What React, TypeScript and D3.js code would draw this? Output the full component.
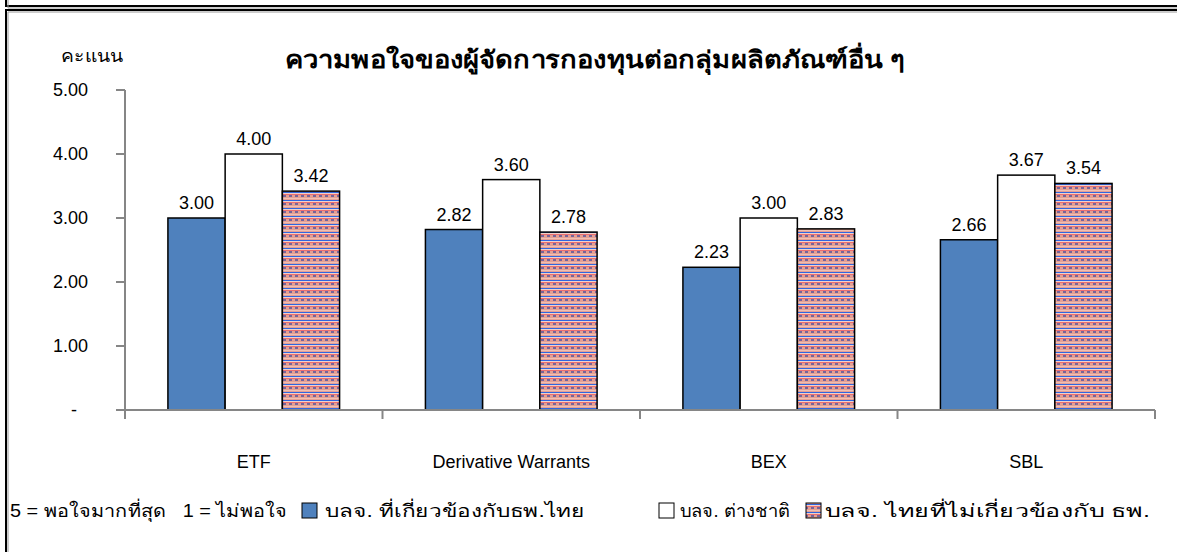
import React from "react";
import * as d3 from "d3";

const categories = ["ETF", "Derivative Warrants", "BEX", "SBL"];
const seriesNames = [
  "บลจ. ที่เกี่ยวข้องกับธพ.ไทย",
  "บลจ. ต่างชาติ",
  "บลจ. ไทยที่ไม่เกี่ยวข้องกับ ธพ.",
];
const bankRelated = [3.0, 2.82, 2.23, 2.66];
const foreign = [4.0, 3.6, 3.0, 3.67];
const thaiNonBank = [3.42, 2.78, 2.83, 3.54];
const yTicks = [0, 1, 2, 3, 4, 5];
const title = "ความพอใจของผู้จัดการกองทุนต่อกลุ่มผลิตภัณฑ์อื่น ๆ";
const yTitle = "คะแนน";
const scaleNote = "5 = พอใจมากที่สุด   1 = ไม่พอใจ";

const W = 1177;
const H = 552;
const font = "Arial, 'Liberation Sans', 'Noto Sans', sans-serif";
const fills = ["#4F81BD", "#FFFFFF", "url(#stripes)"];

// legend layout: [box x, text x, text width]
const legendPos = [
  [302, 325, 260],
  [659, 680, 110],
  [806, 825, 325],
];

export default function App() {
  const plot = { left: 125, right: 1155, top: 90, bottom: 410 };
  const x0 = d3.scaleBand<string>().domain(categories).range([plot.left, plot.right]).padding(0);
  const x1 = d3
    .scaleBand<number>()
    .domain([0, 1, 2])
    .range([0, x0.bandwidth()])
    .paddingInner(0)
    .paddingOuter(0.75);
  const y = d3.scaleLinear().domain([0, 5]).range([plot.bottom, plot.top]);
  const series = [bankRelated, foreign, thaiNonBank];
  const fmt = d3.format(".2f");
  const boundaries = categories.map((c) => x0(c) as number).concat([plot.right]);

  return (
    <svg
      width={W}
      height={H}
      style={{ position: "absolute", left: 0, top: 0, background: "#fff" }}
      fontFamily={font}
    >
      <defs>
        <pattern id="stripes" width="6" height="8" patternUnits="userSpaceOnUse">
          <rect width="6" height="8" fill="#E4A094" />
          <rect y="0" width="6" height="1" fill="#2F66E0" />
          <rect y="1" width="6" height="1" fill="#EFD2CC" />
          <rect y="2" width="6" height="1" fill="#EC6E70" />
          <rect x="1" y="3" width="3" height="2" fill="#76649A" />
          <rect y="6" width="6" height="1" fill="#F0BFB3" />
        </pattern>
      </defs>
      <rect width={W} height={H} fill="#fff" />

      {/* frames */}
      <path d={`M6,0 V6 H${W}`} fill="none" stroke="#000" strokeWidth={2} />
      <path d={`M8,0 V8 H${W}`} fill="none" stroke="#999" strokeWidth={1} />
      <path d={`M6,${H} V10 H${W}`} fill="none" stroke="#000" strokeWidth={2} />
      <path d={`M8,${H} V12 H${W}`} fill="none" stroke="#999" strokeWidth={1} />

      {/* title */}
      <text
        x={285}
        y={68}
        fontSize={24}
        fontWeight="bold"
        textLength={620}
        lengthAdjust="spacingAndGlyphs"
      >
        {title}
      </text>
      <text x={61} y={62} fontSize={18} textLength={62} lengthAdjust="spacingAndGlyphs">
        {yTitle}
      </text>

      {/* y axis */}
      <line x1={plot.left} x2={plot.left} y1={plot.top} y2={plot.bottom} stroke="#868686" strokeWidth={2} />
      {yTicks.map((t) => (
        <g key={t}>
          <line x1={plot.left - 9} x2={plot.left} y1={y(t)} y2={y(t)} stroke="#868686" strokeWidth={2} />
          <text
            x={t === 0 ? 77 : 88}
            y={y(t)}
            dy="0.35em"
            textAnchor="end"
            fontSize={18}
          >
            {t === 0 ? "-" : fmt(t)}
          </text>
        </g>
      ))}

      {/* bars */}
      {categories.map((c, ci) => (
        <g key={c}>
          {series.map((s, si) => {
            const bx = (x0(c) as number) + (x1(si) as number);
            const bw = x1.bandwidth();
            return (
              <g key={si}>
                <rect
                  x={bx}
                  y={y(s[ci])}
                  width={bw}
                  height={y(0) - y(s[ci])}
                  fill={fills[si]}
                  stroke="#000"
                  strokeWidth={1.5}
                />
                <text x={bx + bw / 2} y={y(s[ci]) - 9} textAnchor="middle" fontSize={18}>
                  {fmt(s[ci])}
                </text>
              </g>
            );
          })}
        </g>
      ))}

      {/* x axis */}
      <line x1={plot.left} x2={plot.right} y1={plot.bottom} y2={plot.bottom} stroke="#868686" strokeWidth={2} />
      {boundaries.map((b, i) => (
        <line key={i} x1={b} x2={b} y1={plot.bottom} y2={plot.bottom + 9} stroke="#868686" strokeWidth={2} />
      ))}
      {categories.map((c) => (
        <text
          key={c}
          x={(x0(c) as number) + x0.bandwidth() / 2}
          y={468}
          textAnchor="middle"
          fontSize={18}
        >
          {c}
        </text>
      ))}

      {/* legend */}
      <text
        x={10}
        y={517}
        fontSize={18}
        style={{ whiteSpace: "pre" }}
        textLength={277}
        lengthAdjust="spacingAndGlyphs"
      >
        {scaleNote}
      </text>
      {legendPos.map(([bx, tx, tw], i) => (
        <g key={i}>
          <rect x={bx} y={503} width={15} height={15} fill={fills[i]} stroke="#000" strokeWidth={1} />
          <text x={tx} y={517} fontSize={18} textLength={tw} lengthAdjust="spacingAndGlyphs">
            {seriesNames[i]}
          </text>
        </g>
      ))}
    </svg>
  );
}
